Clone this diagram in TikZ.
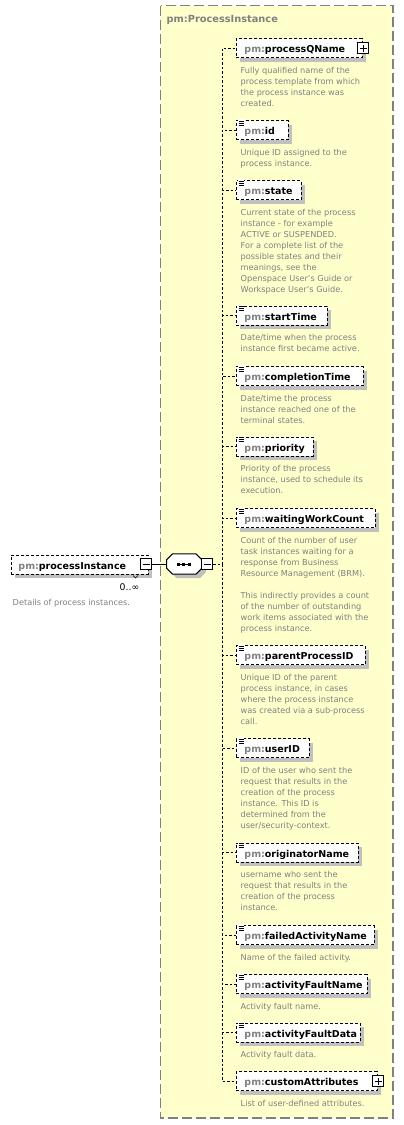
\documentclass[tikz,border=0pt]{standalone}
\usepackage{fontspec}
\setmainfont{DejaVu Sans}
\usetikzlibrary{shadows}
\definecolor{pmg}{HTML}{808080}
\definecolor{cyel}{HTML}{FFFFCC}
\definecolor{shd}{HTML}{C0C0C0}
\tikzset{
 elem/.style={draw=black, dash pattern=on 3pt off 2pt, line width=0.9pt, fill=white,
   minimum height=19pt, inner ysep=0pt, inner xsep=4pt, text height=9pt, text depth=0pt,
   font=\fontsize{9.5}{12}\selectfont\bfseries,
   general shadow={fill=shd, shadow xshift=4pt, shadow yshift=-4pt}},
 desc/.style={anchor=north west, inner sep=0pt, align=left, text=pmg,
   font=\fontsize{8.2}{11}\selectfont},
 conn/.style={draw=black, dash pattern=on 2.5pt off 2pt, line width=0.9pt},
 pbox/.style={draw=black, solid, fill=white, line width=1pt, minimum size=11pt, inner sep=0pt},
 icon/.style={draw=black, line width=0.75pt},
 container/.style={draw=pmg, fill=cyel, line width=1.3pt, dash pattern=on 10pt off 4pt},
}
\newcommand{\elemnode}[5]{%
 \pgfmathsetmacro{\ww}{#3-236-8}%
 \node[elem, anchor=west] (#1) at (236,#2) {\makebox[\ww pt][l]{\hspace*{4pt}\textcolor{pmg}{pm:}#4}};
 \node[desc] (#1d) at (240.5,#2+17) {\rule{0pt}{8pt}#5};
}
\newcommand{\eqicon}[1]{%
 \fill[white] ([xshift=2pt,yshift=1pt]#1.north west) rectangle ([xshift=8pt,yshift=-6pt]#1.north west);
 \draw[icon] ([xshift=2.5pt,yshift=-1.2pt]#1.north west) -- ++(5,0);
 \draw[icon] ([xshift=2.5pt,yshift=-3.2pt]#1.north west) -- ++(5,0);
 \draw[icon] ([xshift=2.5pt,yshift=-5.2pt]#1.north west) -- ++(5,0);
}
\newcommand{\plusbox}[1]{%
 \node[pbox] (#1pb) at ([xshift=0.5pt]#1.east) {};
 \draw[black, line width=1pt] ([xshift=-3.5pt]#1pb.center) -- ([xshift=3.5pt]#1pb.center);
 \draw[black, line width=1pt] ([yshift=-3.5pt]#1pb.center) -- ([yshift=3.5pt]#1pb.center);
}
\begin{document}
\begin{tikzpicture}[x=1pt,y=-1pt]
\useasboundingbox (0,0) rectangle (404,1125);
% container
\path[container] (160.7,5.5) rectangle (393,1118);
\node[anchor=base west, inner sep=0pt, font=\fontsize{9.8}{12}\selectfont\bfseries, text=pmg] (title) at (166.5,22.5) {pm:ProcessInstance};

% root element
\node[elem, anchor=west] (pi) at (11,564.5) {\makebox[129pt][l]{\hspace*{3pt}\textcolor{pmg}{pm:}processInstance}};
\node[pbox] (pimin) at (146,564) {};
\draw[black, line width=1pt] ([xshift=-3.5pt]pimin.center) -- ([xshift=3.5pt]pimin.center);
\draw[black, line width=0.5pt] (133,575.5) -- (135.5,578) -- (138,575.5);
\node[anchor=base east, inner sep=0pt, font=\fontsize{9.3}{11}\selectfont] (occ) at (139.5,590.5) {0..∞};
\node[anchor=base west, inner sep=0pt, text=pmg, font=\fontsize{8.2}{10}\selectfont] (pidesc) at (12.5,605.5) {Details of process instances.};

% sequence compositor
\node[minimum width=35pt, minimum height=20pt, inner sep=0pt] (seq) at (184.2,564) {};
\fill[shd] ([xshift=10pt,yshift=-4pt]seq.north west) -- ([xshift=-2pt,yshift=-4pt]seq.north east)
  -- ([xshift=4pt,yshift=-10pt]seq.north east) -- ([xshift=4pt,yshift=2pt]seq.south east)
  -- ([xshift=-2pt,yshift=-4pt]seq.south east) -- ([xshift=10pt,yshift=-4pt]seq.south west)
  -- ([xshift=4pt,yshift=2pt]seq.south west) -- ([xshift=4pt,yshift=-10pt]seq.north west) -- cycle;
\draw[black, fill=white, line width=1pt] ([xshift=6pt]seq.north west) -- ([xshift=-6pt]seq.north east)
  -- ([yshift=-6pt]seq.north east) -- ([yshift=6pt]seq.south east)
  -- ([xshift=-6pt]seq.south east) -- ([xshift=6pt]seq.south west)
  -- ([yshift=6pt]seq.south west) -- ([yshift=-6pt]seq.north west) -- cycle;
\draw[black, line width=0.6pt] (177,564) -- (191,564);
\fill[black] (177.3,562.5) rectangle (180.3,565.5);
\fill[black] (182.3,562.5) rectangle (185.3,565.5);
\fill[black] (187.6,562.5) rectangle (190.6,565.5);
\node[pbox] (seqmin) at (207,564) {};
\draw[black, line width=1pt] ([xshift=-3.5pt]seqmin.center) -- ([xshift=3.5pt]seqmin.center);
\draw[black, line width=0.9pt] (pimin.east) -- (seq.west);

% children
\elemnode{qname}{48}{362}{processQName}{Fully qualified name of the\\process template from which\\the process instance was\\created.}
\elemnode{id}{130}{288}{id}{Unique ID assigned to the\\process instance.}
\elemnode{state}{190}{301}{state}{Current state of the process\\instance - for example\\ACTIVE or SUSPENDED.\\For a complete list of the\\possible states and their\\meanings, see the\\Openspace User's Guide or\\Workspace User's Guide.}
\elemnode{start}{315.5}{327}{startTime}{Date/time when the process\\instance first became active.}
\elemnode{compl}{376}{363}{completionTime}{Date/time the process\\instance reached one of the\\terminal states.}
\elemnode{prio}{446.5}{313}{priority}{Priority of the process\\instance, used to schedule its\\execution.}
\elemnode{wait}{518}{375}{waitingWorkCount}{Count of the number of user\\task instances waiting for a\\response from Business\\Resource Management (BRM).\\[11pt]This indirectly provides a count\\of the number of outstanding\\work items associated with the\\process instance.}
\elemnode{parent}{655}{365}{parentProcessID}{Unique ID of the parent\\process instance, in cases\\where the process instance\\was created via a sub-process\\call.}
\elemnode{user}{748}{309}{userID}{ID of the user who sent the\\request that results in the\\creation of the process\\instance. This ID is\\determined from the\\user/security-context.}
\elemnode{orig}{852.5}{358}{originatorName}{username who sent the\\request that results in the\\creation of the process\\instance.}
\elemnode{failed}{935}{374}{failedActivityName}{Name of the failed activity.}
\elemnode{afname}{984}{367}{activityFaultName}{Activity fault name.}
\elemnode{afdata}{1032.5}{360}{activityFaultData}{Activity fault data.}
\elemnode{custom}{1081}{377}{customAttributes}{List of user-defined attributes.}

\plusbox{qname}
\plusbox{custom}
\foreach \n in {id,state,start,compl,prio,wait,parent,user,orig,failed,afname,afdata}{\eqicon{\n}}

% connectors
\coordinate (j) at (222,564);
\draw[conn] (seqmin.east) -- (j);
\foreach \n in {qname,id,state,start,compl,prio,wait,parent,user,orig,failed,afname,afdata,custom}{
  \draw[conn] (j) |- (\n.west);
}
\end{tikzpicture}
\end{document}
